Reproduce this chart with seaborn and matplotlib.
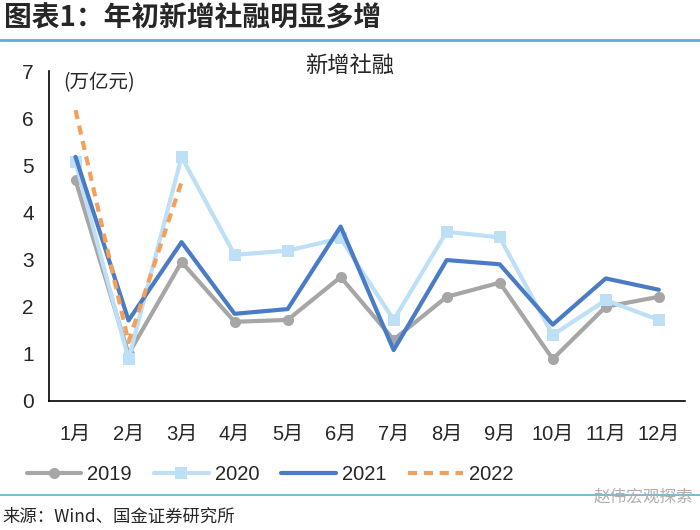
import numpy as np
import pandas as pd
import matplotlib
matplotlib.use("Agg")
import matplotlib.pyplot as plt
import seaborn as sns
from matplotlib.lines import Line2D

# ---------------- data ----------------
MONTHS = ["1月", "2月", "3月", "4月", "5月", "6月", "7月", "8月", "9月", "10月", "11月", "12月"]
V2019 = [4.68, 1.00, 2.95, 1.68, 1.72, 2.63, 1.30, 2.21, 2.51, 0.89, 2.00, 2.21]
V2020 = [5.07, 0.89, 5.18, 3.10, 3.19, 3.45, 1.72, 3.59, 3.47, 1.40, 2.14, 1.72]
V2021 = [5.18, 1.71, 3.37, 1.85, 1.95, 3.70, 1.08, 2.99, 2.90, 1.62, 2.60, 2.36]
V2022 = [6.17, 1.25, 4.65]

sns.set_theme(style="white")
plt.rcParams['font.family'] = ['Liberation Sans', 'Noto Sans CJK SC', 'DejaVu Sans']
plt.rcParams['axes.unicode_minus'] = False
CJK = ['Noto Sans CJK SC', 'DejaVu Sans']

series = [
    ("2019", V2019, dict(color="#A6A6A6", marker="o", markersize=8, linestyle="-")),
    ("2020", V2020, dict(color="#BDE0F7", marker="s", markersize=8, linestyle="-")),
    ("2021", V2021, dict(color="#4A7CC6", marker=None, linestyle="-")),
    ("2022", V2022, dict(color="#F3A05C", marker=None, linestyle=(0, (2.2, 1.6)))),
]

fig = plt.figure(figsize=(7, 5.3), dpi=100)
ax = fig.add_axes([0.07, 0.2434, 0.909, 0.6226])

handles = []
for name, vals, st in series:
    df = pd.DataFrame({"x": np.arange(len(vals)), "y": vals})
    sns.lineplot(data=df, x="x", y="y", ax=ax, color=st["color"], linewidth=3,
                 marker=st["marker"], markersize=st.get("markersize", 0),
                 markeredgewidth=0, linestyle=st["linestyle"], label=None)
    handles.append(Line2D([], [], color=st["color"], linewidth=3, linestyle=st["linestyle"],
                          marker=st["marker"], markersize=st.get("markersize", 0),
                          markeredgewidth=0, label=name))

ax.set_xlim(-0.5, 11.5)
ax.set_ylim(0, 7)
ax.set_yticks(range(0, 8))
ax.set_xticks(np.arange(-0.5, 12, 1))
ax.set_xticklabels([])
ax.set_xticks(np.arange(12), minor=True)
ax.set_xticklabels(MONTHS, minor=True)
ax.tick_params(axis="x", which="major", length=5, width=1.2, direction="out", color="black")
ax.tick_params(axis="x", which="minor", length=0, pad=17, labelsize=14.5)
ax.tick_params(axis="y", length=5, width=1.2, direction="out", color="black", labelsize=15, pad=6)
ax.set_xlabel("")
ax.set_ylabel("")
for s in ["top", "right"]:
    ax.spines[s].set_visible(False)
for s in ["left", "bottom"]:
    ax.spines[s].set_color("black")
    ax.spines[s].set_linewidth(1.2)
if ax.get_legend():
    ax.get_legend().remove()

ax.text(-0.24, 6.97, "(万亿元)", fontsize=14, ha="left", va="top", family=CJK)
fig.text(0.50, 0.877, "新增社融", fontsize=16, ha="center", va="center", family=CJK)

fig.legend(handles=handles, loc="center", bbox_to_anchor=(0.386, 0.104), ncol=4,
           frameon=False, fontsize=14.5, handlelength=2.7, handletextpad=0.3,
           columnspacing=1.1)

# header / footer
fig.text(0.005, 0.965, "图表1：年初新增社融明显多增", fontsize=20, fontweight="bold",
         style="italic", ha="left", va="center", family=CJK)
fig.add_artist(Line2D([0, 1], [0.925, 0.925], color="#5AAFD2", linewidth=2))
fig.add_artist(Line2D([0, 1], [0.066, 0.066], color="#5AAFD2", linewidth=1.2))
fig.text(0.003, 0.026, "来源：Wind、国金证券研究所", fontsize=12.5, ha="left", va="center",
         family=CJK)
fig.text(0.99, 0.062, "赵伟宏观探索", fontsize=12, ha="right", va="center", color="#B0B0B0",
         family=CJK)

fig.savefig("out.png", dpi=100)
